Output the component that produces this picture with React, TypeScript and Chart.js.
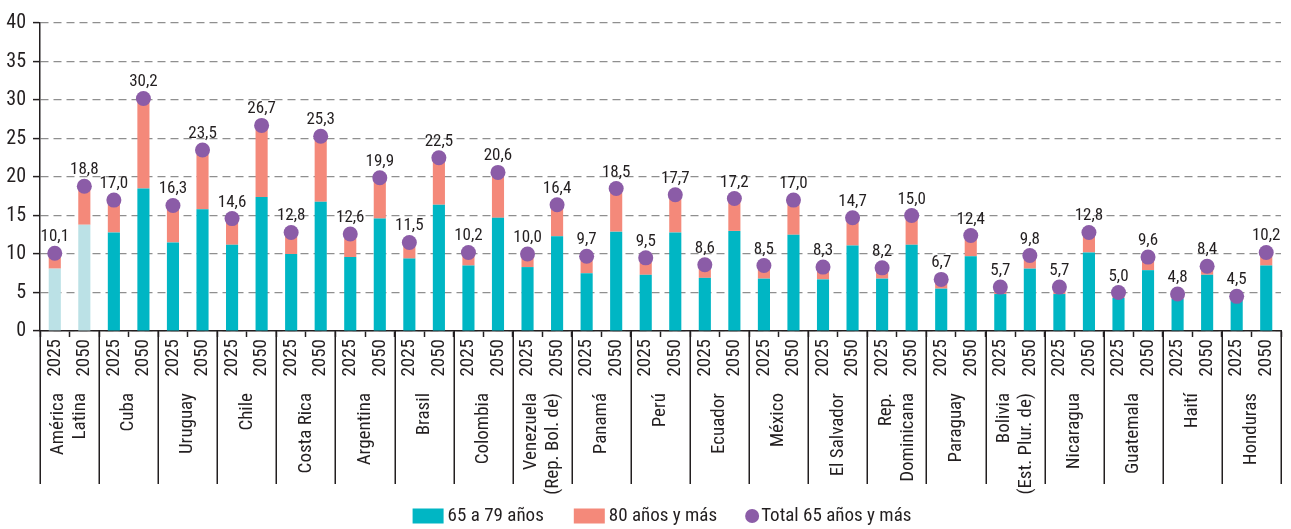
import React, { useEffect, useRef } from "react";
import { Chart, registerables } from "chart.js";

Chart.register(...registerables);

const FONT = "'Roboto Condensed', 'Liberation Sans Narrow', 'DejaVu Sans Condensed', Roboto, sans-serif";

const groupLabels: string[][] = [
  ["América", "Latina"],
  ["Cuba"],
  ["Uruguay"],
  ["Chile"],
  ["Costa Rica"],
  ["Argentina"],
  ["Brasil"],
  ["Colombia"],
  ["Venezuela", "(Rep. Bol. de)"],
  ["Panamá"],
  ["Perú"],
  ["Ecuador"],
  ["México"],
  ["El Salvador"],
  ["Rep.", "Dominicana"],
  ["Paraguay"],
  ["Bolivia", "(Est. Plur. de)"],
  ["Nicaragua"],
  ["Guatemala"],
  ["Haití"],
  ["Honduras"],
];

const years = ["2025", "2050"];

const age65to79 = [
  8.1, 13.8, 12.8, 18.5, 11.5, 15.8, 11.2, 17.4, 10.0, 16.8, 9.6, 14.6, 9.4, 16.4,
  8.5, 14.7, 8.3, 12.3, 7.5, 12.9, 7.3, 12.8, 6.9, 13.0, 6.8, 12.5, 6.7, 11.1,
  6.8, 11.2, 5.5, 9.7, 4.8, 8.1, 4.8, 10.2, 4.3, 7.9, 4.2, 7.3, 4.0, 8.5,
];

const age80plus = [
  2.0, 5.0, 4.2, 11.7, 4.8, 7.7, 3.4, 9.3, 2.8, 8.5, 3.0, 5.3, 2.1, 6.1,
  1.7, 5.9, 1.7, 4.1, 2.2, 5.6, 2.2, 4.9, 1.7, 4.2, 1.7, 4.5, 1.6, 3.6,
  1.4, 3.8, 1.2, 2.7, 0.9, 1.7, 0.9, 2.6, 0.7, 1.7, 0.6, 1.1, 0.5, 1.7,
];

const total65plus = [
  10.1, 18.8, 17.0, 30.2, 16.3, 23.5, 14.6, 26.7, 12.8, 25.3, 12.6, 19.9, 11.5, 22.5,
  10.2, 20.6, 10.0, 16.4, 9.7, 18.5, 9.5, 17.7, 8.6, 17.2, 8.5, 17.0, 8.3, 14.7,
  8.2, 15.0, 6.7, 12.4, 5.7, 9.8, 5.7, 12.8, 5.0, 9.6, 4.8, 8.4, 4.5, 10.2,
];

const seriesNames = ["65 a 79 años", "80 años y más", "Total 65 años y más"];

const TEAL = "#00B6C4";
const TEAL_LIGHT = "#BBE1E6";
const SALMON = "#F4897A";
const PURPLE = "#8B5CA7";
const TEXT = "#231F20";

const xLabels: string[] = groupLabels.flatMap(() => years);

const fmt = (v: number) => v.toFixed(1).replace(".", ",");

const overlayPlugin = {
  id: "overlay",
  afterDatasetsDraw(chart: any) {
    const { ctx } = chart;
    const meta = chart.getDatasetMeta(2);
    ctx.save();
    ctx.font = `17px ${FONT}`;
    ctx.fillStyle = TEXT;
    ctx.textAlign = "center";
    ctx.textBaseline = "alphabetic";
    meta.data.forEach((pt: any, i: number) => {
      ctx.fillText(fmt(total65plus[i]), pt.x, pt.y - 12);
    });
    ctx.restore();
  },
  afterDraw(chart: any) {
    const { ctx, chartArea } = chart;
    const xs = chart.scales.x;
    const n = groupLabels.length;
    const gw = (chartArea.right - chartArea.left) / n;
    ctx.save();
    // group separators
    ctx.strokeStyle = TEXT;
    ctx.lineWidth = 1.5;
    for (let g = 0; g <= n; g++) {
      const x = Math.round(chartArea.left + g * gw) + 0.25;
      ctx.beginPath();
      ctx.moveTo(x, chartArea.bottom);
      ctx.lineTo(x, 484);
      ctx.stroke();
    }
    // group labels
    ctx.font = `19px ${FONT}`;
    ctx.fillStyle = TEXT;
    ctx.textAlign = "right";
    ctx.textBaseline = "middle";
    const lh = 22;
    groupLabels.forEach((lines, g) => {
      const cx = (xs.getPixelForValue(2 * g) + xs.getPixelForValue(2 * g + 1)) / 2;
      lines.forEach((line, i) => {
        ctx.save();
        ctx.translate(cx + (i - (lines.length - 1) / 2) * lh, 393);
        ctx.rotate(-Math.PI / 2);
        ctx.fillText(line, 0, 0);
        ctx.restore();
      });
    });
    // legend
    ctx.font = `19px ${FONT}`;
    ctx.textAlign = "left";
    ctx.textBaseline = "middle";
    const ly = 516;
    const w0 = ctx.measureText(seriesNames[0]).width;
    const w1 = ctx.measureText(seriesNames[1]).width;
    const w2 = ctx.measureText(seriesNames[2]).width;
    const totalW = 31 + 4 + w0 + 30 + 31 + 4 + w1 + 28 + 14 + 2 + w2;
    let x = 662 - totalW / 2;
    ctx.fillStyle = TEAL;
    ctx.fillRect(x, ly - 7.5, 31, 15);
    x += 35;
    ctx.fillStyle = TEXT;
    ctx.fillText(seriesNames[0], x, ly);
    x += w0 + 30;
    ctx.fillStyle = SALMON;
    ctx.fillRect(x, ly - 7.5, 31, 15);
    x += 35;
    ctx.fillStyle = TEXT;
    ctx.fillText(seriesNames[1], x, ly);
    x += w1 + 28;
    ctx.fillStyle = PURPLE;
    ctx.beginPath();
    ctx.arc(x + 7, ly, 7, 0, Math.PI * 2);
    ctx.fill();
    x += 16;
    ctx.fillStyle = TEXT;
    ctx.fillText(seriesNames[2], x, ly);
    ctx.restore();
  },
};

export default function App() {
  const ref = useRef<HTMLCanvasElement>(null);
  useEffect(() => {
    document.body.style.margin = "0";
    const chart = new Chart(ref.current!, {
      type: "bar",
      data: {
        labels: xLabels,
        datasets: [
          {
            type: "bar",
            label: seriesNames[0],
            data: age65to79,
            backgroundColor: age65to79.map((_, i) => (i < 2 ? TEAL_LIGHT : TEAL)),
            stack: "bars",
            order: 2,
            categoryPercentage: 1,
            barPercentage: 0.41,
          },
          {
            type: "bar",
            label: seriesNames[1],
            data: age80plus,
            backgroundColor: SALMON,
            stack: "bars",
            order: 2,
            categoryPercentage: 1,
            barPercentage: 0.41,
          },
          {
            type: "line",
            label: seriesNames[2],
            data: total65plus,
            showLine: false,
            stack: "total",
            order: 0,
            pointRadius: 7.5,
            pointHoverRadius: 7.5,
            pointBackgroundColor: PURPLE,
            pointBorderWidth: 0,
            borderColor: PURPLE,
          } as any,
        ],
      },
      options: {
        responsive: false,
        devicePixelRatio: 1,
        animation: false,
        layout: { padding: { top: 23, right: 10, left: 0, bottom: 0 } },
        plugins: {
          legend: { display: false },
          tooltip: { enabled: false },
        },
        scales: {
          x: {
            stacked: true,
            afterFit: (s: any) => {
              s.height = 198;
              s.paddingLeft = 0;
              s.paddingRight = 0;
            },
            grid: {
              offset: true,
              drawOnChartArea: false,
              drawTicks: true,
              tickLength: 6,
              tickColor: TEXT,
              tickWidth: 1.5,
            },
            border: { display: true, color: TEXT, width: 1.5 },
            ticks: {
              autoSkip: false,
              minRotation: 90,
              maxRotation: 90,
              padding: 2,
              color: TEXT,
              font: { family: FONT, size: 19 },
            },
          },
          y: {
            stacked: true,
            min: 0,
            max: 40,
            afterFit: (s: any) => {
              s.width = 40;
            },
            grid: {
              color: "#8F8F8F",
              lineWidth: 1.2,
              drawTicks: true,
              tickLength: 7,
              tickColor: TEXT,
              tickWidth: 1.5,
            },
            border: { display: true, color: TEXT, width: 1.5, dash: [8, 5] },
            ticks: {
              stepSize: 5,
              padding: 7,
              color: TEXT,
              font: { family: FONT, size: 20 },
            },
          },
        },
      },
      plugins: [overlayPlugin],
    });
    return () => chart.destroy();
  }, []);
  return (
    <div style={{ position: "fixed", left: 0, top: 0, width: 1291, height: 529, background: "#fff" }}>
      <canvas ref={ref} width={1291} height={529} style={{ width: 1291, height: 529 }} />
    </div>
  );
}
